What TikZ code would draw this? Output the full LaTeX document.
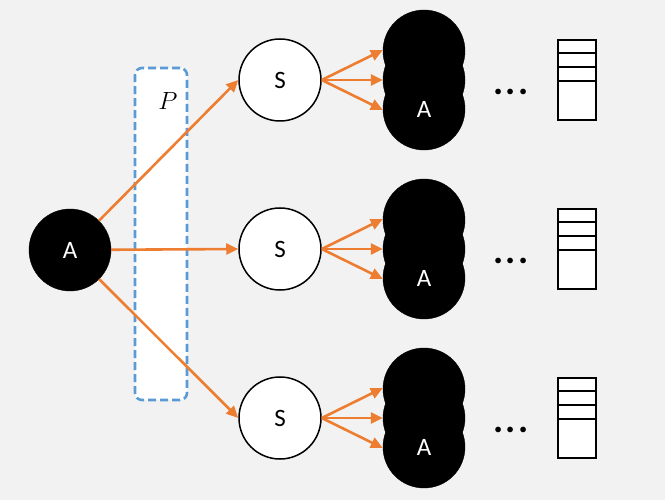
\documentclass[tikz,border=0pt]{standalone}
\usepackage{fontspec}
\setmainfont{Carlito}
\usetikzlibrary{arrows.meta}
\definecolor{bg}{HTML}{F2F2F2}
\definecolor{org}{HTML}{ED7D31}
\definecolor{blu}{HTML}{5B9BD5}
\begin{document}
\begin{tikzpicture}[x=1pt,y=-1pt,
  blk/.style={circle,fill=black,draw=black,minimum size=82pt,inner sep=0pt,text=white,font=\fontsize{25}{28}\selectfont},
  wht/.style={circle,fill=white,draw=black,line width=1.5pt,minimum size=82pt,inner sep=0pt,font=\fontsize{25}{28}\selectfont},
  arr/.style={draw=org,line width=2.6pt,-{Triangle[length=12pt,width=11pt]}},
  stackbox/.style={draw=black,fill=white,line width=2.4pt,minimum width=38pt,minimum height=80pt,inner sep=0pt},
  dotsnode/.style={font=\fontsize{38}{40}\selectfont\bfseries}]
\fill[bg] (0,0) rectangle (665,500);
\useasboundingbox (0,0) rectangle (665,500);
% P box
\node[draw=blu,line width=2.6pt,dash pattern=on 8pt off 4pt,rounded corners=7pt,fill=white,minimum width=52pt,minimum height=332pt,inner sep=0pt] (pbox) at (161,234) {};
\node (plabel) at (168,101) {\fontsize{27}{30}\selectfont$P$};
% root
\node[blk] (a) at (70,250) {A};
% S nodes
\node[wht] (s1) at (280,80) {S};
\node[wht] (s2) at (280,249) {S};
\node[wht] (s3) at (280,418) {S};
% stacks
\foreach \i/\y in {1/80,2/249,3/418}{
  \node[blk] (t\i a) at (424,\y-29) {};
  \node[blk] (t\i b) at (424,\y) {};
  \node[blk] (t\i c) at (424,\y+29) {A};
}
% arrows root -> S
\draw[arr] (a) -- (s1.west);
\draw[arr] (a) -- (s2.west);
\draw[arr] (a) -- (s3.west);
% arrows S -> stacks
\foreach \i in {1,2,3}{
  \coordinate (o\i) at (s\i.east);
  \draw[arr] (o\i) -- ([yshift=1pt]t\i a.west);
  \draw[arr] (o\i) -- (t\i b.west);
  \draw[arr] (o\i) -- ([yshift=-1pt]t\i c.west);
}
% dots and tables
\foreach \i/\y in {1/80,2/249,3/418}{
  \node[dotsnode] (d\i) at (511,\y+12) {.\hspace{2.5pt}.\hspace{2.5pt}.};
  \node[stackbox] (r\i) at (577,\y) {};
  \draw[line width=2.4pt] ([yshift=-14pt]r\i.north west) -- ([yshift=-14pt]r\i.north east);
  \draw[line width=2.4pt] ([yshift=-28pt]r\i.north west) -- ([yshift=-28pt]r\i.north east);
  \draw[line width=2.4pt] ([yshift=-42pt]r\i.north west) -- ([yshift=-42pt]r\i.north east);
}
\end{tikzpicture}
\end{document}
